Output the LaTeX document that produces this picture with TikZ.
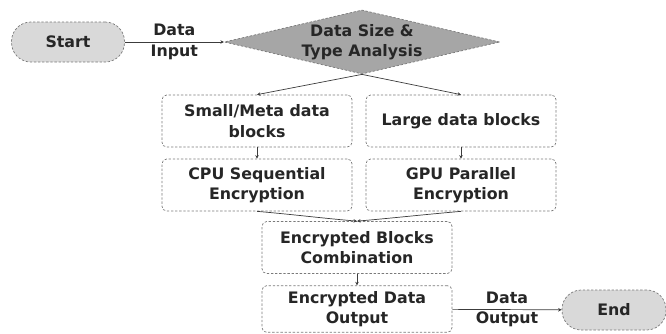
\documentclass[tikz,border=0pt]{standalone}
\usepackage{fontspec}
\setmainfont{DejaVu Sans}
\usetikzlibrary{shapes.geometric, arrows.meta, positioning}

\definecolor{boxline}{HTML}{7A7A7A}
\definecolor{flowline}{HTML}{3C3C3C}
\definecolor{termfill}{HTML}{D9D9D9}
\definecolor{decfill}{HTML}{A6A6A6}

\begin{document}
\begin{tikzpicture}[x=0.03cm, y=-0.03cm,
	font=\fontsize{13.5}{17.5}\selectfont\bfseries,
	every node/.style={text=black!85, align=center},
	process/.style={draw=boxline, line width=0.6pt, dash pattern=on 2pt off 1.5pt, rounded corners=4pt, minimum width=5.7cm, minimum height=1.56cm, inner sep=2pt},
	terminal/.style={draw=boxline, line width=0.6pt, dash pattern=on 2pt off 1.5pt, fill=termfill, rounded corners=0.58cm, minimum height=1.2cm},
	decision/.style={draw=boxline, line width=0.6pt, dash pattern=on 2pt off 1.5pt, fill=decfill, diamond, aspect=4.3, minimum width=8.1cm, minimum height=1.9cm, inner sep=0pt},
	flow/.style={draw=flowline, line width=0.6pt, -{Stealth[length=3pt, width=3pt]}}]
	
	\useasboundingbox (0,0) rectangle (666,333);
	
	% terminals and decision
	\node[terminal, minimum width=3.39cm] (start) at (68,42) {Start};
	\node[decision] (analysis) at (362,42) {Data Size \&\\Type Analysis};
	\node[terminal, minimum width=3.12cm] (end) at (614,310) {End};
	
	% processing blocks
	\node[process] (small) at (257,121) {Small/Meta data\\blocks};
	\node[process] (large) at (461,121) {Large data blocks};
	\node[process] (cpu) at (257,185) {CPU Sequential\\Encryption};
	\node[process] (gpu) at (461,185) {GPU Parallel\\Encryption};
	\node[process] (comb) at (357,247.5) {Encrypted Blocks\\Combination};
	\node[process, minimum height=1.4cm] (out) at (357,309) {Encrypted Data\\Output};
	
	% connectors
	\draw[flow] (start) -- node {Data\\Input} (analysis);
	\draw[flow] (analysis.south) -- (small.north);
	\draw[flow] (analysis.south) -- (large.north);
	\draw[flow] (small) -- (cpu);
	\draw[flow] (large) -- (gpu);
	\draw[flow] (cpu.south) to[out=-5, in=175] (comb.north);
	\draw[flow] (gpu.south) to[out=-175, in=5] (comb.north);
	\draw[flow] (comb) -- (out);
	\draw[flow] (out) -- node {Data\\Output} (end);
\end{tikzpicture}
\end{document}
